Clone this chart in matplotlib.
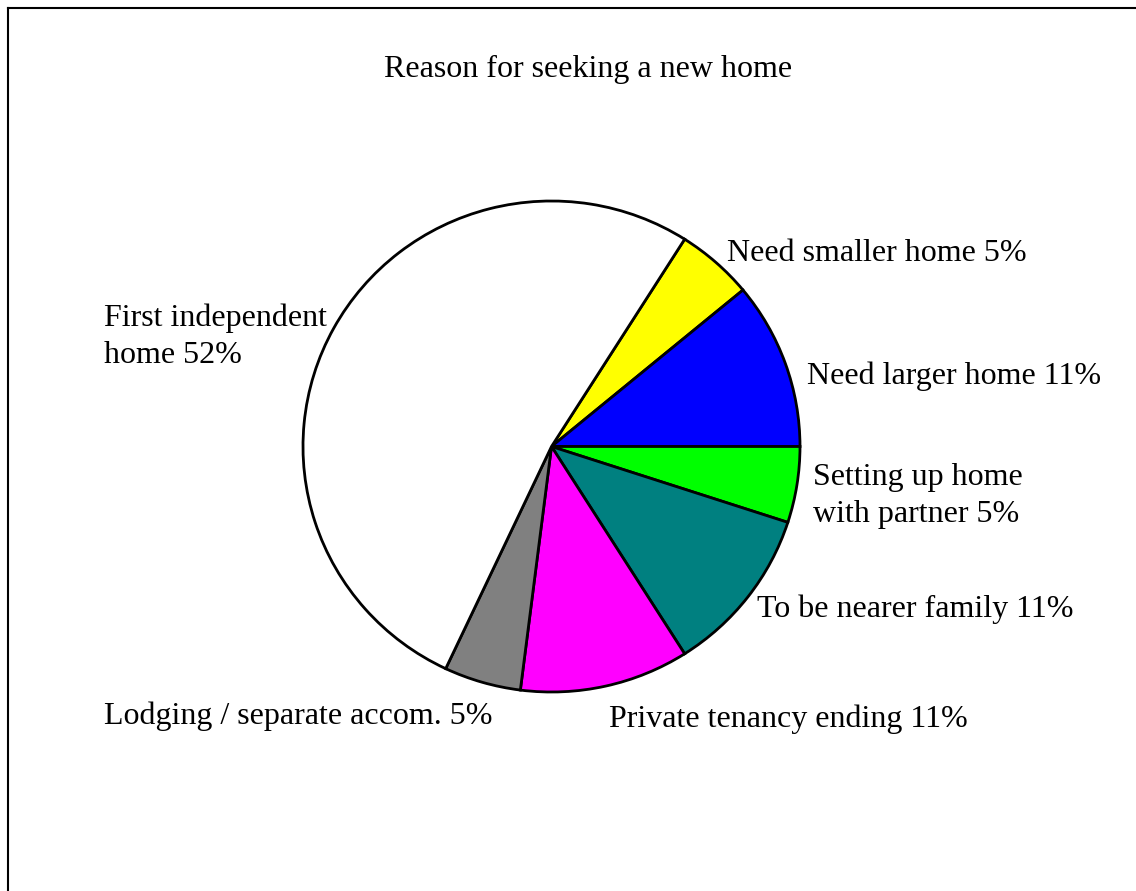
import matplotlib
matplotlib.use("Agg")
import matplotlib.pyplot as plt
from matplotlib.lines import Line2D

# Reasons for seeking a new home (percent of respondents)
reasons = [
    "Need smaller home",
    "Need larger home",
    "Setting up home\nwith partner",
    "To be nearer family",
    "Private tenancy ending",
    "Lodging / separate accom.",
    "First independent\nhome",
]
percent = [5, 11, 5, 11, 11, 5, 52]
colors = ["#FFFF00", "#0000FF", "#00FF00", "#008080", "#FF00FF", "#808080", "#FFFFFF"]

# label anchor (left x, last-line baseline y) in pixels from top-left
label_pos = [
    (727, 261),
    (807, 384),
    (813, 522),
    (757, 617),
    (609, 727),
    (104, 724),
    (104, 363),
]

W, H = 1136, 891
DPI = 100
plt.rcParams["font.family"] = ["Liberation Serif", "DejaVu Serif"]
fig = plt.figure(figsize=(W / DPI, H / DPI), dpi=DPI, facecolor="white")

def fx(x):
    return x / W

def fy(y):
    return 1 - y / H

# pie area: centre (551.5, 446.5), radii 248.5 x 245.5 px
cx, cy, rx, ry = 551.5, 446.5, 248.5, 245.5
ax = fig.add_axes([fx(cx - rx), fy(cy + ry), 2 * rx / W, 2 * ry / H])
ax.pie(percent, colors=colors, startangle=57.6, counterclock=False,
       radius=1.0,
       wedgeprops=dict(edgecolor="black", linewidth=2.0))
ax.set_aspect("auto")
ax.set_xlim(-1.0, 1.0)
ax.set_ylim(-1.0, 1.0)
ax.axis("off")

# title
fig.text(fx(588), fy(77), "Reason for seeking a new home", ha="center",
         va="baseline", fontsize=23)

# slice labels
for name, pct, (x, y) in zip(reasons, percent, label_pos):
    fig.text(fx(x), fy(y), f"{name} {pct}%", ha="left", va="baseline",
             fontsize=23, linespacing=1.38)

# chart frame (top and left edges)
fig.add_artist(Line2D([fx(8), fx(W)], [fy(8), fy(8)], color="black", lw=1.5))
fig.add_artist(Line2D([fx(8), fx(8)], [fy(8), fy(H)], color="black", lw=1.5))

fig.savefig("out.png", dpi=DPI, facecolor="white")
